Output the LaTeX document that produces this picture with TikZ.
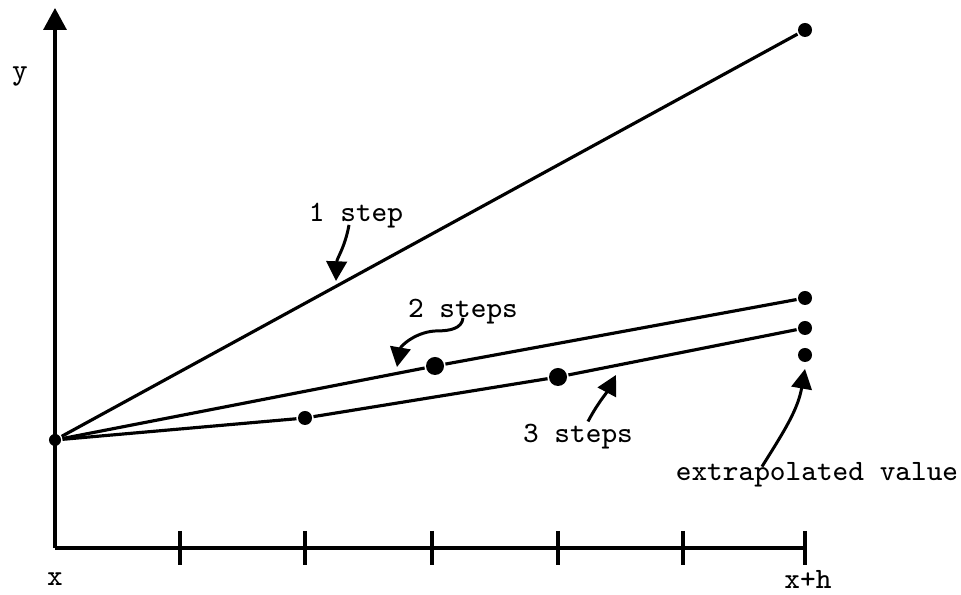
\documentclass[tikz,border=0pt]{standalone}
\usetikzlibrary{arrows.meta,calc}

\begin{document}
\begin{tikzpicture}[
    x=0.01cm, y=-0.01cm,
    >={Triangle[length=5.6pt,width=5.8pt]},
    line width=0.9pt,
    dot/.style={circle, fill, inner sep=0pt, minimum size=0.14cm},
    bigdot/.style={dot, minimum size=0.18cm},
    lbl/.style={font=\ttfamily\fontsize{8.4}{10}\selectfont, inner sep=1pt},
    pointer/.style={->, line width=0.85pt}
  ]
  \useasboundingbox (0,0) rectangle (961,595);

  % axes
  \coordinate (orig) at (55,548);
  \coordinate (ytop) at (55,8);
  \coordinate (xend) at (805,548);
  \draw[->, >={Triangle[length=6.2pt,width=6.5pt]}] (orig) -- (ytop);
  \draw (orig) -- (xend);
  \foreach \tx in {180,305,432,558,683,805}
    \draw (\tx,531) -- (\tx,565);
  \node[lbl] (ylab) at (20,76) {y};
  \node[lbl] (xlab) at (55,579) {x};
  \node[lbl] (xhlab) at (808,579) {x+h};

  % step points
  \node[dot, minimum size=0.12cm] (p0) at (55,440) {};
  \node[dot] (a1) at (805,30) {};
  \node[bigdot] (b1) at (435,366) {};
  \node[dot] (b2) at (805,298) {};
  \node[dot] (c1) at (305,418) {};
  \node[bigdot] (c2) at (558,377) {};
  \node[dot] (c3) at (805,328) {};
  \node[dot] (ext) at (805,355) {};

  \draw (p0) -- (a1);
  \draw (p0) -- (b1) -- (b2);
  \draw (p0) -- (c1) -- (c2) -- (c3);

  % labels
  \node[lbl] (l1) at (356,216) {1 step};
  \node[lbl] (l2) at (463,312) {2 steps};
  \node[lbl] (l3) at (578,437) {3 steps};
  \node[lbl] (lext) at (817,475) {extrapolated value};

  \coordinate (t1) at (336,281);
  \coordinate (t2) at (397,367);
  \coordinate (t3) at (616,375);
  \coordinate (t4) at (805,369);

  \draw[pointer] ($(l1.base)+(-7,3)$) to[out=-100,in=88] (t1);
  \draw[pointer] (l2.base) to[out=-95,in=0] ++(-25,13) to[out=180,in=80] (t2);
  \draw[pointer] ($(l3.north)+(10,2)$) to[out=62,in=-118] (t3);
  \draw[pointer] ($(lext.north)+(-55,9)$) to[out=58,in=-100] (t4);
\end{tikzpicture}
\end{document}
